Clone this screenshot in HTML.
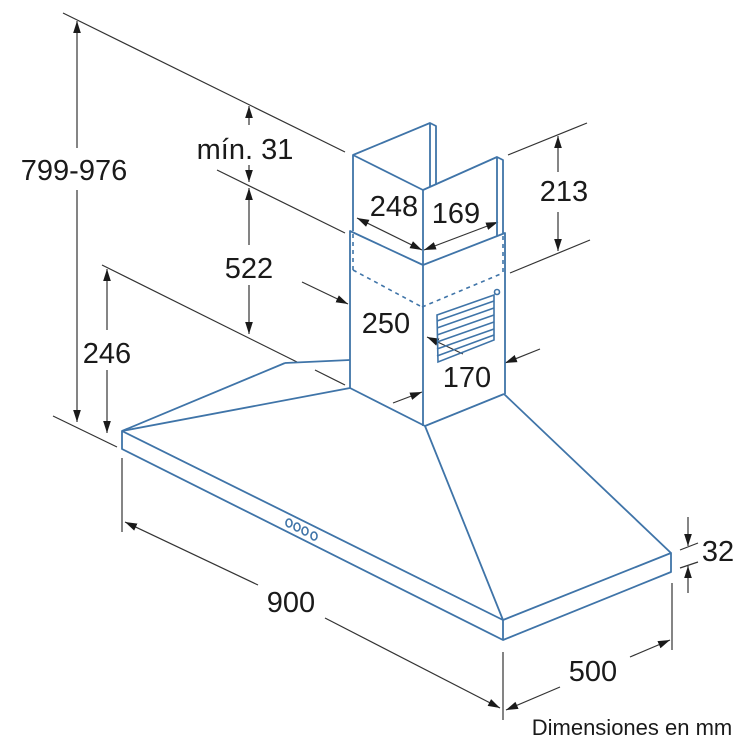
<!DOCTYPE html>
<html><head><meta charset="utf-8"><style>
html,body{margin:0;padding:0;background:#fff;}
svg{display:block;}
text{font-family:"Liberation Sans",Arial,sans-serif;fill:#1a1a1a;}
</style></head><body>
<svg width="750" height="750" viewBox="0 0 750 750" xmlns="http://www.w3.org/2000/svg">
<defs>
<marker id="a" viewBox="0 0 10 10" refX="10" refY="5" markerWidth="12" markerHeight="12" orient="auto-start-reverse" markerUnits="userSpaceOnUse"><path d="M0,1.8 L10,5 L0,8.2 z" fill="#1a1a1a"/></marker>
</defs>
<g stroke="#333" stroke-width="1.2" fill="none">
<line x1="63" y1="13" x2="345" y2="152"/>
<line x1="53" y1="416" x2="117" y2="447"/>
<line x1="77" y1="148" x2="77" y2="21" marker-end="url(#a)"/>
<line x1="77" y1="190" x2="77" y2="422" marker-end="url(#a)"/>
<line x1="217" y1="170" x2="345" y2="233"/>
<line x1="249" y1="125" x2="249" y2="106" marker-end="url(#a)"/>
<line x1="249" y1="165" x2="249" y2="182" marker-end="url(#a)"/>
<line x1="249" y1="245" x2="249" y2="188" marker-end="url(#a)"/>
<line x1="249" y1="285" x2="249" y2="334" marker-end="url(#a)"/>
<line x1="102" y1="265" x2="297" y2="362"/>
<line x1="107" y1="330" x2="107" y2="269" marker-end="url(#a)"/>
<line x1="107" y1="370" x2="107" y2="433" marker-end="url(#a)"/>
<line x1="315" y1="370" x2="345" y2="385"/>
<line x1="302" y1="282" x2="348" y2="304" marker-end="url(#a)"/>
<line x1="393" y1="403" x2="422" y2="392" marker-end="url(#a)"/>
<line x1="357" y1="218" x2="422" y2="250" marker-start="url(#a)" marker-end="url(#a)"/>
<line x1="424" y1="250" x2="498" y2="222" marker-start="url(#a)" marker-end="url(#a)"/>
<line x1="508" y1="155" x2="587" y2="123"/>
<line x1="510" y1="273" x2="590" y2="240"/>
<line x1="558" y1="172" x2="558" y2="136" marker-end="url(#a)"/>
<line x1="558" y1="212" x2="558" y2="251" marker-end="url(#a)"/>
<line x1="540" y1="349" x2="505" y2="363" marker-end="url(#a)"/>
<line x1="463" y1="354" x2="427" y2="337" marker-end="url(#a)"/>
<line x1="122" y1="458" x2="122" y2="532"/>
<line x1="258" y1="585" x2="125" y2="522" marker-end="url(#a)"/>
<line x1="325" y1="618" x2="500" y2="708" marker-end="url(#a)"/>
<line x1="503" y1="652" x2="503" y2="720"/>
<line x1="672" y1="583" x2="672" y2="650"/>
<line x1="560" y1="687" x2="506" y2="710" marker-end="url(#a)"/>
<line x1="630" y1="657" x2="670" y2="640" marker-end="url(#a)"/>
<line x1="680" y1="550" x2="698" y2="543"/>
<line x1="680" y1="568" x2="698" y2="562"/>
<line x1="688" y1="517" x2="688" y2="546" marker-end="url(#a)"/>
<line x1="688" y1="593" x2="688" y2="566" marker-end="url(#a)"/>
</g>
<g stroke="#3f74a8" stroke-width="1.8" fill="none" stroke-linejoin="round">
<polygon points="122,431 503,620 671,553 671,572 503,640 122,449"/>
<line x1="503" y1="620" x2="503" y2="640"/>
<line x1="122" y1="431" x2="285" y2="363"/>
<line x1="285" y1="363" x2="350" y2="360"/>
<line x1="122" y1="431" x2="350" y2="388"/>
<line x1="350" y1="388" x2="425" y2="426"/>
<line x1="425" y1="426" x2="504" y2="394"/>
<line x1="425" y1="426" x2="503" y2="620"/>
<line x1="504" y1="394" x2="671" y2="553"/>
<polyline points="350,388 350,231 423,265 505,233 505,394"/>
<line x1="423" y1="265" x2="423" y2="426"/>
<polyline points="353,231 353,155 423,190 497,157 503,160 503,233"/>
<line x1="423" y1="190" x2="423" y2="265"/>
<polyline points="353,155 430,123 436,126 436,185"/>
<line x1="430" y1="123" x2="430" y2="187"/>
<line x1="497" y1="157" x2="497" y2="236"/>
</g>
<g stroke="#3f74a8" stroke-width="1.6" fill="none" stroke-dasharray="4,4">
<line x1="353" y1="234" x2="353" y2="270"/>
<line x1="353" y1="270" x2="422" y2="307"/>
<line x1="422" y1="307" x2="503" y2="273"/>
<line x1="503" y1="236" x2="503" y2="273"/>
</g>
<g stroke="#3f74a8" stroke-width="1.6" fill="none">
<polygon points="437,315 494,295 494,340 438,362"/>
<line x1="437" y1="321" x2="494" y2="301"/>
<line x1="437" y1="328" x2="494" y2="308"/>
<line x1="437" y1="335" x2="494" y2="315"/>
<line x1="437" y1="342" x2="494" y2="322"/>
<line x1="437" y1="349" x2="494" y2="329"/>
<line x1="437" y1="356" x2="494" y2="335"/>
<circle cx="497" cy="292" r="2.5"/>
<ellipse cx="289" cy="523" rx="3" ry="4"/>
<ellipse cx="297" cy="527" rx="3" ry="4"/>
<ellipse cx="305" cy="531" rx="3" ry="4"/>
<ellipse cx="314" cy="536" rx="3" ry="4"/>
</g>
<g font-size="29">
<text x="74" y="180" text-anchor="middle">799-976</text>
<text x="245" y="159" text-anchor="middle">mín. 31</text>
<text x="249" y="278" text-anchor="middle">522</text>
<text x="107" y="363" text-anchor="middle">246</text>
<text x="394" y="216" text-anchor="middle">248</text>
<text x="456" y="223" text-anchor="middle">169</text>
<text x="564" y="201" text-anchor="middle">213</text>
<text x="386" y="333" text-anchor="middle">250</text>
<text x="467" y="387" text-anchor="middle">170</text>
<text x="291" y="612" text-anchor="middle">900</text>
<text x="593" y="681" text-anchor="middle">500</text>
<text x="718" y="561" text-anchor="middle">32</text>
</g>
<text x="632" y="735" font-size="22" text-anchor="middle">Dimensiones en mm</text>
</svg>
</body></html>
